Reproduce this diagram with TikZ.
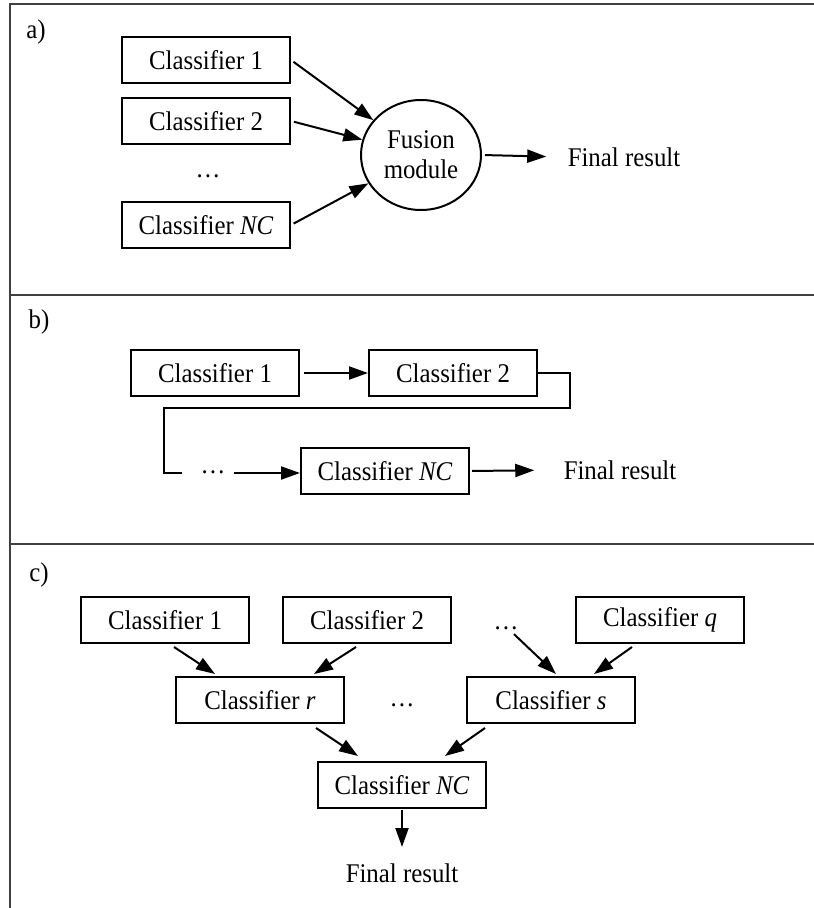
\documentclass[tikz,border=0pt]{standalone}
\usepackage{fontspec}
\setmainfont{Liberation Serif}[FakeStretch=0.92]
\usepackage{tikz}
\usepackage{xcolor}
\usetikzlibrary{shapes.geometric,arrows.meta}
\tikzset{
    clf-box/.style = {draw, line width=2pt, rectangle, minimum width=168pt, minimum height=46pt, inner sep=0pt},
    fusion-box/.style = {draw, line width=2pt, ellipse, minimum width=120pt, minimum height=110pt, inner sep=0pt, align=center},
    conn-line/.style = {line width=2pt},
    conn-arrow/.style = {line width=2pt, -{Triangle[length=19pt,width=13pt]}},
    panel-frame/.style = {line width=2.5pt, draw=black!75},
    panel-label/.style = {inner sep=0pt},
}

\begin{document}
\begin{tikzpicture}[x=1pt,y=-1pt,font=\fontsize{27}{30}\selectfont]
\useasboundingbox (0,0) rectangle (814,908);
% frame and dividers
\draw[panel-frame] (814,4) -- (10,4) -- (10,908);
\draw[panel-frame] (10,295) -- (814,295);
\draw[panel-frame] (10,544) -- (814,544);

% a) parallel
\node[panel-label] (la) at (36,32) {a)};
\node[clf-box] (a1) at (206,60) {Classifier 1};
\node[clf-box] (a2) at (206,121) {Classifier 2};
\node (adots) at (208,176) {\dots};
\node[clf-box] (anc) at (206,225) {Classifier \textit{NC}};
\node[fusion-box] (fusion) at (421,155) {Fusion\\module};
\node (afinal) at (624,157) {Final result};
\draw[conn-arrow, shorten <=3pt] (a1.east) -- (fusion);
\draw[conn-arrow, shorten <=3pt] (a2.east) -- (fusion);
\draw[conn-arrow, shorten <=3pt] (anc.east) -- (fusion);
\draw[conn-arrow, shorten <=3pt, shorten >=18pt] (fusion.east) -- (afinal.west);

% b) serial
\node[panel-label] (lb) at (39,322) {b)};
\node[clf-box] (b1) at (215,373) {Classifier 1};
\node[clf-box] (b2) at (453,373) {Classifier 2};
\node (bdots) at (213,472) {\dots};
\node[clf-box] (bnc) at (385,471) {Classifier \textit{NC}};
\node (bfinal) at (620,470) {Final result};
\coordinate (bstub) at (182,473);
\draw[conn-arrow, shorten <=4pt] (b1) -- (b2);
\draw[conn-line] (b2.east) -| ++(32,35) -| ([xshift=-18pt]bstub) -- (bstub);
\draw[conn-arrow] ([xshift=52pt]bstub) -- (bnc.west |- bstub);
\draw[conn-arrow, shorten <=2pt, shorten >=26pt] (bnc.east) -- (bfinal.west);

% c) hierarchical
\node[panel-label] (lc) at (39,575) {c)};
\node[clf-box] (c1) at (165,620) {Classifier 1};
\node[clf-box] (c2) at (367,620) {Classifier 2};
\node (cdots1) at (506,628) {\dots};
\node[clf-box] (cq) at (660,620) {Classifier \textit{q}};
\node[clf-box] (cr) at (260,700) {Classifier \textit{r}};
\node (cdots2) at (402,705) {\dots};
\node[clf-box] (cs) at (551,700) {Classifier \textit{s}};
\node[clf-box] (cnc) at (402,785) {Classifier \textit{NC}};
\node (cfinal) at (402,873) {Final result};
\coordinate (cend) at (402,847);
\draw[conn-arrow] ([shift={(9,3)}]c1.south) -- ([shift={(-45,-2)}]cr.north);
\draw[conn-arrow] ([shift={(-11,3)}]c2.south) -- ([shift={(54,-2)}]cr.north);
\draw[conn-arrow] ([shift={(8,1)}]cdots1.south) -- ([shift={(5,-2)}]cs.north);
\draw[conn-arrow] ([shift={(-28,3)}]cq.south) -- ([shift={(43,-2)}]cs.north);
\draw[conn-arrow] ([shift={(56,4)}]cr.south) -- ([shift={(-44,-5)}]cnc.north);
\draw[conn-arrow] ([shift={(-66,4)}]cs.south) -- ([shift={(43,-5)}]cnc.north);
\draw[conn-arrow, shorten <=1pt] (cnc.south) -- (cend);
\end{tikzpicture}
\end{document}
